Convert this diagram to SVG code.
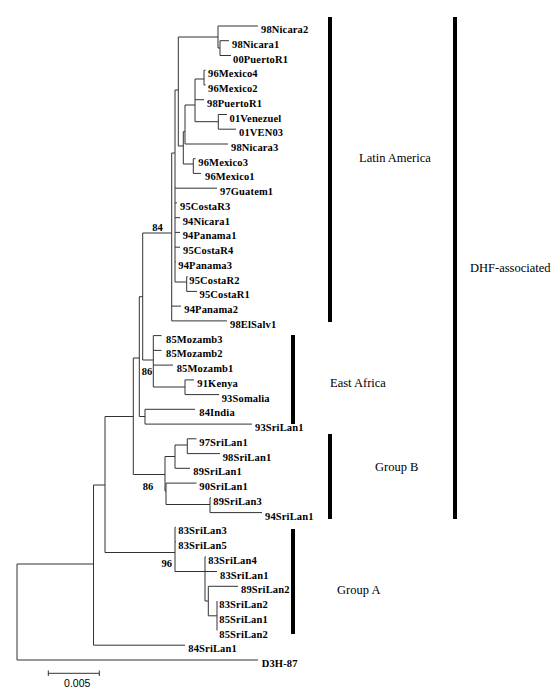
<svg xmlns="http://www.w3.org/2000/svg" width="555" height="700" viewBox="0 0 555 700">
<style>
.br{stroke:#333;stroke-width:1;fill:none}
.lf{font-family:"Liberation Serif","Times New Roman",serif;font-weight:bold;font-size:10.5px;letter-spacing:0.15px;fill:#000}
.bs{font-family:"Liberation Serif","Times New Roman",serif;font-weight:bold;font-size:10.5px;fill:#000;text-anchor:middle}
.gl{font-family:"Liberation Serif","Times New Roman",serif;font-size:12.5px;fill:#000}
.bar{stroke:#000;stroke-width:4}
.sc{font-family:"Liberation Sans",Arial,sans-serif;font-size:10.5px;fill:#000;text-anchor:middle}
</style>
<rect width="555" height="700" fill="#fff"/>
<g id="connectors" class="br">
<path d="M17,564V660H258"/>
<path d="M17,564H93.5M93.5,485V645.2H185"/>
<path d="M93.5,485H105M105,416.5V552.5"/>
<path d="M105,552.5H175M175,527.3V571.5M175,527.3H175.8M175,542H175.8M175,571.5H217M205,556.8V601M205,556.8H205.8M205,601H208.3M208.3,586.3V615.8M208.3,586.3H238M208.3,615.8H217M217,601V630.5"/>
<path d="M105,416.5H133.3M133.3,358V474.5"/>
<path d="M133.3,474.5H165M165,456.5V491H166M175,445V468.3M165,456.5H175M175,445H187.3M187.3,438.8V453.6M187.3,438.8H196.5M187.3,453.6H220M175,468.3H190"/>
<path d="M166,483.1V504.5M166,483.1H196.5M166,504.5H210M210,497.8V512.6M210,497.8H211M210,512.6H262"/>
<path d="M133.3,358H139.3M139.3,296.7V416.5H145M145,409.3V424.1M145,409.3H195M145,424.1H252"/>
<path d="M139.3,296.7H142.7M142.7,233V360H153.3M153.3,335.6V387M153.3,335.6H161.5M153.3,350.4H161.5M153.3,365.1H173M153.3,387H185M185,379.9V394.6M185,379.9H194M185,394.6H219"/>
<path d="M142.7,233H171.7M171.7,153V320.9M171.7,306.1H181M171.7,320.9H227"/>
<path d="M171.7,153H175M175,90V282M175,188.2H217M175,202.9H177M175,217.7H180M175,232.4H180M175,247.2H180M175,261.9H175.8M175,282H186.7M186.7,276.6V291.4M186.7,276.6H187.5M186.7,291.4H197"/>
<path d="M175,90H178.3M178.3,37V146M178.3,37H218M218,26V48M218,26H258M218,48H220M220,40.7V55.5M220,40.7H229M220,55.5H231"/>
<path d="M178.3,146H183.3M183.3,131.7V164M183.3,131.7H185M185,105V144H228M183.3,164H193.3M193.3,158.7V173.4M193.3,158.7H195.5M193.3,173.4H201"/>
<path d="M185,105H195M195,79V121.7M195,79H204M204,70.2V85M204,70.2H205.5M204,85H205.5M195,99.7H204M195,121.7H218.3M218.3,114.5V129.2M218.3,114.5H227M218.3,129.2H236"/>
</g>
<g id="leaves">
<g id="n0"><text class="lf" x="261" y="33">98Nicara2</text></g>
<g id="n1"><text class="lf" x="232" y="47.7">98Nicara1</text></g>
<g id="n2"><text class="lf" x="233" y="62.5">00PuertoR1</text></g>
<g id="n3"><text class="lf" x="208" y="77.2">96Mexico4</text></g>
<g id="n4"><text class="lf" x="208" y="92">96Mexico2</text></g>
<g id="n5"><text class="lf" x="207" y="106.7">98PuertoR1</text></g>
<g id="n6"><text class="lf" x="229.5" y="121.5">01Venezuel</text></g>
<g id="n7"><text class="lf" x="239" y="136.2">01VEN03</text></g>
<g id="n8"><text class="lf" x="231" y="151">98Nicara3</text></g>
<g id="n9"><text class="lf" x="198.3" y="165.7">96Mexico3</text></g>
<g id="n10"><text class="lf" x="205" y="180.4">96Mexico1</text></g>
<g id="n11"><text class="lf" x="220" y="195.2">97Guatem1</text></g>
<g id="n12"><text class="lf" x="180" y="209.9">95CostaR3</text></g>
<g id="n13"><text class="lf" x="182.7" y="224.7">94Nicara1</text></g>
<g id="n14"><text class="lf" x="182.7" y="239.4">94Panama1</text></g>
<g id="n15"><text class="lf" x="183" y="254.2">95CostaR4</text></g>
<g id="n16"><text class="lf" x="178.3" y="268.9">94Panama3</text></g>
<g id="n17"><text class="lf" x="189.3" y="283.6">95CostaR2</text></g>
<g id="n18"><text class="lf" x="199.5" y="298.4">95CostaR1</text></g>
<g id="n19"><text class="lf" x="184.3" y="313.1">94Panama2</text></g>
<g id="n20"><text class="lf" x="230" y="327.9">98ElSalv1</text></g>
<g id="n21"><text class="lf" x="166" y="342.6">85Mozamb3</text></g>
<g id="n22"><text class="lf" x="166" y="357.4">85Mozamb2</text></g>
<g id="n23"><text class="lf" x="176.7" y="372.1">85Mozamb1</text></g>
<g id="n24"><text class="lf" x="197.3" y="386.9">91Kenya</text></g>
<g id="n25"><text class="lf" x="221.7" y="401.6">93Somalia</text></g>
<g id="n26"><text class="lf" x="199.3" y="416.3">84India</text></g>
<g id="n27"><text class="lf" x="255" y="431.1">93SriLan1</text></g>
<g id="n28"><text class="lf" x="199.3" y="445.8">97SriLan1</text></g>
<g id="n29"><text class="lf" x="222.7" y="460.6">98SriLan1</text></g>
<g id="n30"><text class="lf" x="193.3" y="475.3">89SriLan1</text></g>
<g id="n31"><text class="lf" x="199.3" y="490.1">90SriLan1</text></g>
<g id="n32"><text class="lf" x="213.3" y="504.8">89SriLan3</text></g>
<g id="n33"><text class="lf" x="265" y="519.6">94SriLan1</text></g>
<g id="n34"><text class="lf" x="178.3" y="534.3">83SriLan3</text></g>
<g id="n35"><text class="lf" x="178.3" y="549">83SriLan5</text></g>
<g id="n36"><text class="lf" x="208.3" y="563.8">83SriLan4</text></g>
<g id="n37"><text class="lf" x="220" y="578.5">83SriLan1</text></g>
<g id="n38"><text class="lf" x="241" y="593.3">89SriLan2</text></g>
<g id="n39"><text class="lf" x="219.3" y="608">83SriLan2</text></g>
<g id="n40"><text class="lf" x="219.3" y="622.8">85SriLan1</text></g>
<g id="n41"><text class="lf" x="219.3" y="637.5">85SriLan2</text></g>
<g id="n42"><text class="lf" x="188.3" y="652.2">84SriLan1</text></g>
<g id="n43"><text class="lf" x="261.7" y="667">D3H-87</text></g>
</g>
<g id="bootstrap">
<text class="bs" x="157.5" y="231">84</text>
<text class="bs" x="147" y="375">86</text>
<text class="bs" x="148" y="490">86</text>
<text class="bs" x="166.7" y="567">96</text>
</g>
<g id="groups">
<g id="g-latin"><line class="bar" x1="330" y1="17" x2="330" y2="322"/><text class="gl" x="359" y="162">Latin America</text></g>
<g id="g-eastafrica"><line class="bar" x1="293" y1="335" x2="293" y2="424"/><text class="gl" x="330" y="387">East Africa</text></g>
<g id="g-groupb"><line class="bar" x1="330" y1="434" x2="330" y2="519"/><text class="gl" x="375" y="471">Group B</text></g>
<g id="g-groupa"><line class="bar" x1="293" y1="529" x2="293" y2="634"/><text class="gl" x="337" y="594">Group A</text></g>
<g id="g-dhf"><line class="bar" x1="455" y1="17" x2="455" y2="519"/><text class="gl" x="470" y="272">DHF-associated</text></g>
</g>
<g id="scalebar">
<path class="br" d="M48.3,673.3H99.3M48.3,670.5V676M99.3,670.5V676"/>
<text class="sc" x="77.2" y="686.7">0.005</text>
</g>
</svg>
